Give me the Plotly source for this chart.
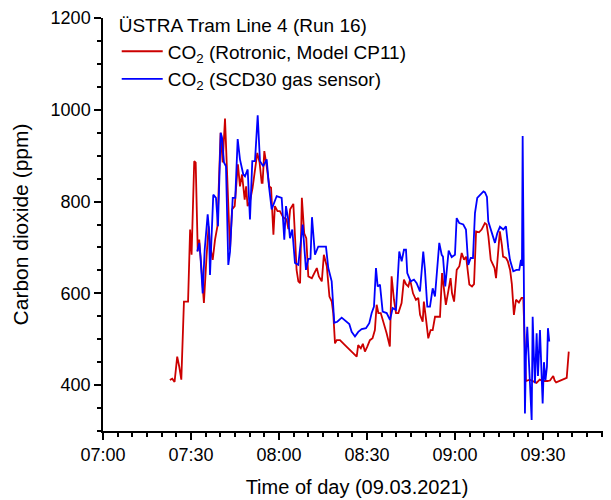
import pandas as pd
import plotly.graph_objects as go

# minutes after 07:00 on 09.03.2021
rot_t = [22.8, 23.6, 24.4, 25.3, 26.0, 26.7, 27.6, 29.0, 29.7, 30.2, 31.1, 31.6, 32.3, 32.8, 33.5,
         34.4, 35.3, 36.0, 36.6, 37.4, 38.2, 39.0, 40.1, 40.8, 41.6, 42.4, 43.3, 44.0, 44.9, 45.5,
         46.0, 46.7, 47.4, 48.3, 48.8, 49.3, 50.1, 51.0, 51.8, 52.6, 53.4, 54.1, 54.4, 55.0, 55.8,
         56.7, 57.3, 58.1, 58.6, 59.5, 60.3, 61.5, 62.6, 63.2, 63.8, 64.9, 65.5, 66.0, 66.6, 67.2,
         67.8, 68.6, 69.3, 70.0, 71.2, 72.0, 72.9, 73.6, 74.6, 75.3, 76.3, 77.2, 78.0, 78.5, 79.1,
         79.7, 80.8, 82.5, 84.2, 86.5, 87.0, 87.9, 88.6, 89.3, 90.1, 91.0, 91.9, 92.7, 93.3, 93.9,
         94.7, 95.6, 96.7, 97.8, 98.4, 99.2, 99.9, 100.7, 101.8, 102.6, 103.3, 104.1, 104.7, 105.7,
         106.7, 107.5, 108.1, 109.0, 109.4, 110.2, 110.9, 111.7, 112.4, 113.2, 114.9, 115.6, 116.0,
         116.9, 117.6, 118.5, 119.0, 119.7, 120.6, 121.5, 122.3, 123.1, 123.8, 124.4, 124.9, 125.8,
         126.5, 127.2, 128.2, 129.1, 130.2, 130.8, 131.4, 132.2, 132.9, 133.5, 134.0, 134.8, 135.3,
         136.0, 136.4, 137.4, 138.0, 138.8, 139.4, 140.1, 140.8, 141.8, 142.7, 143.3, 144.0, 144.2,
         145.5, 146.7, 147.8, 148.9, 150.0, 151.5, 152.4, 153.5, 154.0, 154.5, 155.8, 157.0, 158.1,
         158.8]
rot_co2 = [411, 414, 407, 462, 440, 412, 582, 582, 739, 684, 888, 885, 692, 717, 660,
           579, 680, 746, 700, 673, 717, 746, 950, 885, 981, 841, 695, 783, 790, 840,
           881, 833, 859, 804, 833, 790, 800, 830, 866, 906, 885, 841, 841, 910, 877,
           833, 830, 728, 790, 779, 779, 765, 761, 740, 783, 795, 720, 651, 626, 622,
           808, 731, 720, 637, 633, 645, 655, 637, 626, 684, 659, 593, 582, 557, 491,
           498, 498, 487, 476, 462, 487, 480, 490, 473, 484, 498, 502, 520, 575, 557,
           557, 538, 513, 484, 637, 586, 557, 557, 579, 630, 620, 615, 630, 600,
           586, 590, 553, 538, 582, 540, 502, 520, 520, 549, 549, 644, 626,
           575, 600, 633, 600, 582, 651, 659, 688, 673, 680, 640, 619, 615,
           620, 735, 733, 739, 753, 750, 724, 673, 662, 655, 633, 695, 735,
           705, 680, 677, 670, 651, 620, 553, 586, 580, 590, 590, 429, 409,
           412, 409, 405, 412, 409, 409, 410, 420, 410, 406, 410, 413, 416,
           473]

scd_t = [32.15, 32.83, 33.24, 33.99, 34.67, 35.69, 36.14, 36.48, 37.60, 38.52, 39.20, 40.13, 40.57,
         41.25, 41.93, 42.72, 43.30, 44.22, 45.10, 45.92, 46.70, 47.83, 48.41, 49.33, 50.11, 50.90,
         51.82, 52.74, 53.52, 54.65, 55.81, 56.59, 57.51, 59.22, 60.92, 61.81, 62.39, 63.17, 63.75,
         64.53, 65.45, 66.58, 68.08, 69.20, 69.99, 70.74, 71.25, 72.27, 73.40, 74.56, 76.02, 76.81,
         77.97, 78.85, 79.88, 81.38, 82.50, 83.97, 84.78, 85.91, 87.03, 88.19, 89.66, 90.78, 91.60,
         92.39, 93.07, 93.65, 94.43, 95.35, 96.72, 97.84, 98.76, 99.89, 101.01, 101.83, 102.61,
         103.30, 103.74, 104.90, 106.02, 106.94, 108.07, 109.19, 109.77, 110.56, 111.48, 112.40,
         113.18, 114.65, 115.47, 115.91, 116.69, 117.85, 118.88, 120.00, 120.58, 121.47, 122.83,
         123.75, 124.53, 125.35, 126.14, 126.82, 127.60, 129.10, 129.72, 130.23, 130.91, 131.35,
         132.51, 133.64, 134.42, 135.34, 136.47, 137.39, 138.17, 138.75, 139.88, 140.97, 141.92,
         142.50, 142.84, 143.08, 143.86, 144.20, 144.65, 145.06, 145.57, 146.15, 146.49, 146.93,
         147.27, 147.85, 148.30, 148.98, 149.49, 149.90, 150.34, 150.85, 151.36, 151.70, 152.15]
scd_co2 = [691, 710, 680, 600, 695, 772, 740, 640, 815, 808, 746, 950, 940,
           885, 877, 662, 690, 808, 808, 936, 892, 859, 855, 870, 761, 888,
           888, 988, 888, 877, 892, 833, 783, 812, 808, 717, 790, 760, 720,
           739, 666, 662, 750, 651, 675, 675, 766, 684, 702, 702, 702, 655,
           626, 536, 538, 547, 540, 533, 516, 506, 516, 522, 524, 535, 557,
           571, 655, 615, 619, 560, 557, 542, 568, 564, 691, 670, 695,
           695, 644, 626, 630, 622, 604, 691, 651, 571, 571, 611,
           593, 710, 684, 680, 615, 693, 679, 684, 764, 753, 750,
           739, 662, 677, 677, 775, 808, 819, 822, 820, 810, 757,
           735, 710, 731, 745, 739, 746, 699, 673, 648, 651, 651,
           673, 660, 943, 338, 462, 527, 480, 404, 324, 549, 460,
           404, 513, 420, 520, 430, 360, 450, 410, 440, 524, 495]

series_names = ["CO<sub>2</sub> (Rotronic, Model CP11)", "CO<sub>2</sub> (SCD30 gas sensor)"]
legend_title = "ÜSTRA Tram Line 4 (Run 16)"
x_title = "Time of day (09.03.2021)"
y_title = "Carbon dioxide (ppm)"

base = pd.Timestamp("2021-03-09 07:00:00")
def to_time(mins):
    return [base + pd.Timedelta(minutes=m) for m in mins]

FONT = "Liberation Sans, Arial, sans-serif"

fig = go.Figure()
fig.add_trace(go.Scatter(x=to_time(rot_t), y=rot_co2, mode="lines", name=series_names[0],
                         line=dict(color="#cc0000", width=1.8)))
fig.add_trace(go.Scatter(x=to_time(scd_t), y=scd_co2, mode="lines", name=series_names[1],
                         line=dict(color="#0000ff", width=1.8)))

# the page body has an 8px margin, so the figure is sized to the visible area
fig.update_layout(
    width=603, height=492,
    margin=dict(l=95, r=0, t=10, b=69, autoexpand=False),
    paper_bgcolor="white", plot_bgcolor="white",
    font=dict(family=FONT, size=18, color="black"),
    showlegend=True,
    legend=dict(
        title=dict(text=legend_title, font=dict(size=19)),
        font=dict(size=19),
        x=0.027, y=1.025, xanchor="left", yanchor="top",
        bgcolor="rgba(0,0,0,0)",
        itemwidth=41,
    ),
    xaxis=dict(
        type="date",
        range=[base, base + pd.Timedelta(minutes=173.2)],
        tick0=base, dtick=30 * 60 * 1000, tickformat="%H:%M",
        ticks="outside", ticklen=7, tickwidth=1.5, tickcolor="black",
        minor=dict(dtick=5 * 60 * 1000, ticks="outside", ticklen=4, tickwidth=1.5, tickcolor="black"),
        showline=True, linecolor="black", linewidth=1.5,
        showgrid=False, zeroline=False,
        title=dict(text=x_title, font=dict(size=20), standoff=16),
        tickfont=dict(size=18),
        automargin=False,
    ),
    yaxis=dict(
        range=[300, 1200], tick0=0, dtick=200,
        ticks="outside", ticklen=7, tickwidth=1.5, tickcolor="black",
        minor=dict(dtick=50, ticks="outside", ticklen=4, tickwidth=1.5, tickcolor="black"),
        showline=True, linecolor="black", linewidth=1.5,
        showgrid=False, zeroline=False,
        title=dict(text=y_title, font=dict(size=21), standoff=16),
        tickfont=dict(size=18),
        automargin=False,
    ),
)

fig.write_html("out.html")
